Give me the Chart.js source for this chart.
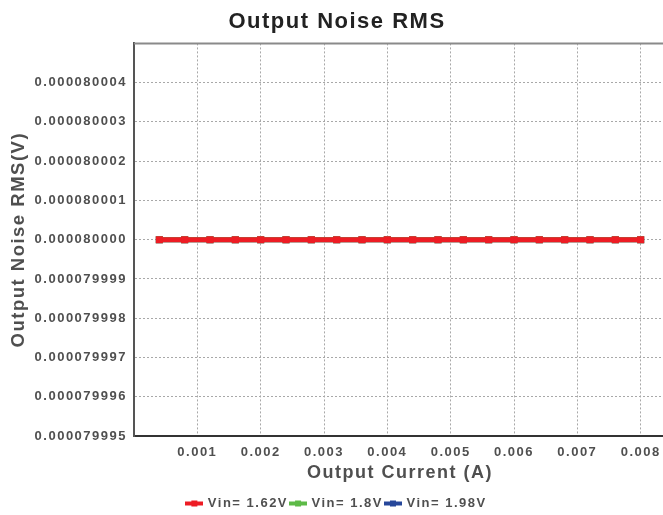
<!DOCTYPE html>
<html>
<head>
<meta charset="utf-8">
<script src="https://cdn.jsdelivr.net/npm/chart.js@4/dist/chart.umd.min.js"></script>
<style>
  html, body { margin: 0; padding: 0; background: #fff; overflow: hidden; }
</style>
</head>
<body>
<canvas id="noise-graph" width="672" height="515"></canvas>
<script>
// Output current sweep (A).
const OUTPUT_CURRENT = [
    0.0004, 0.0008, 0.0012, 0.0016, 0.0020, 0.0024, 0.0028, 0.0032, 0.0036, 0.0040,
    0.0044, 0.0048, 0.0052, 0.0056, 0.0060, 0.0064, 0.0068, 0.0072, 0.0076, 0.0080,
];

// Output noise RMS (V) for each supply voltage.
const NOISE_VIN_162 = [
    0.00008, 0.00008, 0.00008, 0.00008, 0.00008, 0.00008, 0.00008, 0.00008, 0.00008, 0.00008,
    0.00008, 0.00008, 0.00008, 0.00008, 0.00008, 0.00008, 0.00008, 0.00008, 0.00008, 0.00008,
];
const NOISE_VIN_180 = [
    0.00008, 0.00008, 0.00008, 0.00008, 0.00008, 0.00008, 0.00008, 0.00008, 0.00008, 0.00008,
    0.00008, 0.00008, 0.00008, 0.00008, 0.00008, 0.00008, 0.00008, 0.00008, 0.00008, 0.00008,
];
const NOISE_VIN_198 = [
    0.00008, 0.00008, 0.00008, 0.00008, 0.00008, 0.00008, 0.00008, 0.00008, 0.00008, 0.00008,
    0.00008, 0.00008, 0.00008, 0.00008, 0.00008, 0.00008, 0.00008, 0.00008, 0.00008, 0.00008,
];

const SERIES_LABELS = ["Vin= 1.62V", "Vin= 1.8V", "Vin= 1.98V"];
const SERIES_COLORS = ["#ed1c24", "#5dba47", "#26479a"];

const Y_MIN = 0.000079995;
const Y_MAX = 0.000080005;
const Y_STEP = 0.000000001;
const X_MIN = 0;
const X_MAX = 0.0084;
const X_STEP = 0.001;

const TEXT_COLOR = "#4f4f4f";
const FONT_FAMILY = "'Liberation Sans', Arial, sans-serif";

// Legend marker: short thick line with a square in the middle.
function make_marker(color) {
    let c = document.createElement("canvas");
    c.width = 18;
    c.height = 8;
    let ctx = c.getContext("2d");
    ctx.fillStyle = color;
    ctx.fillRect(0, 2, 18, 4);
    ctx.fillRect(6, 1, 6, 6);
    return c;
}

// Wide-spaced lettering everywhere on the canvas.
const letterSpacingPlugin = {
    id: "letterSpacing",
    beforeUpdate(chart) { chart.ctx.letterSpacing = "1.5px"; },
    beforeDraw(chart) { chart.ctx.letterSpacing = "1.5px"; },
};

// Solid frame line along the top of the plot area.
const topBorderPlugin = {
    id: "topBorder",
    afterDatasetsDraw(chart) {
        const { ctx, chartArea } = chart;
        ctx.save();
        ctx.strokeStyle = "#8a8a8a";
        ctx.lineWidth = 2;
        ctx.beginPath();
        ctx.moveTo(chartArea.left, chartArea.top);
        ctx.lineTo(chartArea.right, chartArea.top);
        ctx.stroke();
        ctx.restore();
    },
};

function series(label, values, color) {
    return {
        label: label,
        data: values.map((v, i) => ({ x: OUTPUT_CURRENT[i], y: v })),
        borderColor: color,
        backgroundColor: color,
        borderWidth: 5,
        pointStyle: "rect",
        pointRadius: 5,
        pointBorderWidth: 0,
        pointBackgroundColor: color,
        tension: 0,
    };
}

new Chart(document.getElementById("noise-graph"), {
    type: "line",
    data: {
        datasets: [
            series(SERIES_LABELS[0], NOISE_VIN_162, SERIES_COLORS[0]),
            series(SERIES_LABELS[1], NOISE_VIN_180, SERIES_COLORS[1]),
            series(SERIES_LABELS[2], NOISE_VIN_198, SERIES_COLORS[2]),
        ],
    },
    options: {
        responsive: false,
        animation: false,
        layout: {
            padding: { top: 6, left: 8, right: 6, bottom: -5 },
        },
        plugins: {
            title: {
                display: true,
                text: "Output Noise RMS",
                color: "#222",
                font: { family: FONT_FAMILY, size: 22, weight: "bold" },
                padding: { top: 3, bottom: 8 },
            },
            legend: {
                position: "bottom",
                labels: {
                    color: TEXT_COLOR,
                    font: { family: FONT_FAMILY, size: 13, weight: "bold" },
                    usePointStyle: true,
                    pointStyleWidth: 14,
                    padding: 3,
                    generateLabels(chart) {
                        return chart.data.datasets.map((ds, i) => ({
                            text: ds.label,
                            fontColor: TEXT_COLOR,
                            pointStyle: make_marker(SERIES_COLORS[i]),
                            datasetIndex: i,
                            hidden: false,
                            lineWidth: 0,
                        }));
                    },
                },
            },
            tooltip: { enabled: false },
        },
        scales: {
            x: {
                type: "linear",
                min: X_MIN,
                max: X_MAX,
                afterBuildTicks(axis) {
                    axis.ticks = axis.ticks.filter(t => t.value > 0.0005 && t.value < X_MAX - 0.0001);
                },
                afterFit(axis) { axis.height = 58; },
                ticks: {
                    stepSize: X_STEP,
                    includeBounds: false,
                    color: TEXT_COLOR,
                    font: { family: FONT_FAMILY, size: 13, weight: "bold" },
                    padding: 9,
                    maxRotation: 0,
                    autoSkip: false,
                    callback: v => v.toFixed(3),
                },
                grid: {
                    color: "#a8a8a8",
                    lineWidth: 1,
                    drawTicks: false,
                },
                border: {
                    display: true,
                    color: "#333",
                    width: 2,
                    dash: [2, 2],
                },
                title: {
                    display: true,
                    text: "Output Current (A)",
                    color: TEXT_COLOR,
                    font: { family: FONT_FAMILY, size: 18, weight: "bold" },
                    padding: { top: 0, bottom: 10 },
                },
            },
            y: {
                type: "linear",
                min: Y_MIN,
                max: Y_MAX,
                afterBuildTicks(axis) {
                    axis.ticks = axis.ticks.filter(t => t.value < Y_MAX - Y_STEP / 2);
                },
                afterFit(axis) { axis.width = 126; },
                ticks: {
                    stepSize: Y_STEP,
                    color: TEXT_COLOR,
                    font: { family: FONT_FAMILY, size: 13, weight: "bold" },
                    padding: 7,
                    callback: v => v.toFixed(9),
                },
                grid: {
                    color: "#a8a8a8",
                    lineWidth: 1,
                    drawTicks: false,
                },
                border: {
                    display: true,
                    color: "#555",
                    width: 2,
                    dash: [2, 2],
                },
                title: {
                    display: true,
                    text: "Output Noise RMS(V)",
                    color: TEXT_COLOR,
                    font: { family: FONT_FAMILY, size: 18.5, weight: "bold" },
                    padding: { top: 0, bottom: 4 },
                },
            },
        },
    },
    plugins: [letterSpacingPlugin, topBorderPlugin],
});
</script>
</body>
</html>
